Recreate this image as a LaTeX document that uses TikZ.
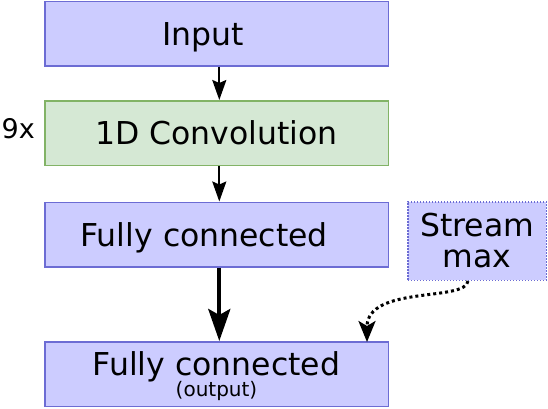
\documentclass[tikz,border=0pt]{standalone}
\usepackage{fontspec}
\setmainfont{DejaVu Sans}
\usetikzlibrary{arrows.meta}
\definecolor{bluefill}{HTML}{CCCCFF}
\definecolor{blueline}{HTML}{6C6CD4}
\definecolor{greenfill}{HTML}{D5E8D4}
\definecolor{greenline}{HTML}{82B366}
\tikzset{
  box/.style={draw=blueline, fill=bluefill, line width=1.5pt, minimum width=343.5pt, minimum height=64.5pt, inner sep=0pt, font=\fontsize{31.5}{37.5}\selectfont},
  onebox/.style={box, text height=23pt, text depth=0pt},
  convbox/.style={onebox, draw=greenline, fill=greenfill},
  streambox/.style={box, dash pattern=on 1.5pt off 1.5pt, minimum width=138.5pt, minimum height=78.5pt, align=center, font=\fontsize{31.5}{31}\selectfont},
  arr/.style={line width=2pt, -{Stealth[length=20pt, width=14pt, inset=3pt]}},
  thickarr/.style={line width=4pt, -{Stealth[length=32pt, width=22pt, inset=6pt]}},
  dotarr/.style={line width=3pt, dash pattern=on 3pt off 3pt, -{Stealth[length=21pt, width=17pt, inset=5pt]}}
}
\begin{document}
\begin{tikzpicture}[x=1pt,y=-1pt]
\useasboundingbox (0,0) rectangle (548,408);
\node[onebox] (in) at (216.5,33.5) {Input\hspace*{27pt}};
\node[convbox] (conv) at (216.5,133) {1D Convolution};
\node[font=\fontsize{27}{30}\selectfont, anchor=base east, inner sep=0pt] (rep) at (35,138) {9x};
\node[onebox] (fc) at (216.5,234.5) {Fully connected\hspace*{24.6pt}};
\node[box, align=center] (out) at (216.5,374) {Fully connected\\[-16pt]\smash{\fontsize{20}{20}\selectfont (output)}};
\node[streambox] (sm) at (477,241) {Stream\\max};
\coordinate (smout) at (468,281);
\coordinate (outin) at (367,342);
\draw[arr] ([xshift=2.8pt]in.south) -- ([xshift=2.8pt]conv.north);
\draw[arr] ([xshift=2.8pt]conv.south) -- ([xshift=2.8pt]fc.north);
\draw[thickarr] ([xshift=2.8pt]fc.south) -- ([xshift=2.8pt]out.north);
\draw[dotarr] (smout) .. controls (466,302) and (367,285) .. (outin);
\end{tikzpicture}
\end{document}
